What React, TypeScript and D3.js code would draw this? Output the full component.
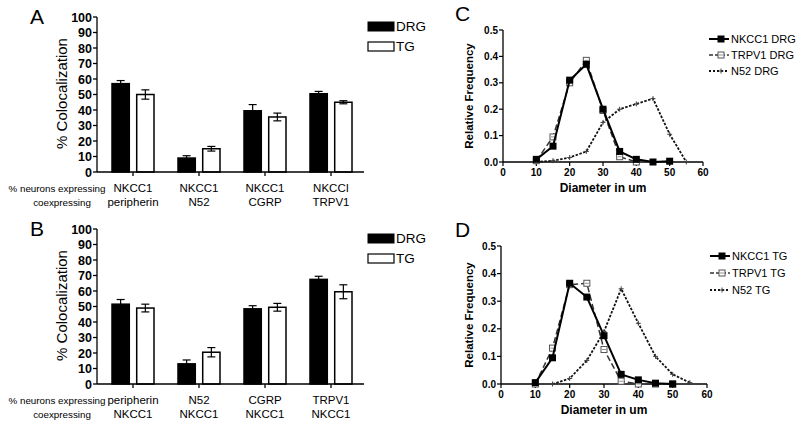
import React from "react";
import * as d3 from "d3";

const groupsA = ["NKCC1\nperipherin", "NKCC1\nN52", "NKCC1\nCGRP", "NKCCI\nTRPV1"];
const groupsB = ["peripherin\nNKCC1", "N52\nNKCC1", "CGRP\nNKCC1", "TRPV1\nNKCC1"];
const seriesNames = ["DRG", "TG"];
const dA_DRG = [57, 9, 39.5, 50.5];
const dA_DRG_err = [2, 1.5, 4, 1.5];
const dA_TG = [50, 15, 35.5, 45];
const dA_TG_err = [3, 1.5, 2.5, 1];
const dB_DRG = [51.5, 13, 48.5, 67.5];
const dB_DRG_err = [3, 2.5, 2, 2];
const dB_TG = [49, 20.5, 49.5, 59.5];
const dB_TG_err = [2.5, 3, 2.5, 4.5];
const barTicks = [0, 10, 20, 30, 40, 50, 60, 70, 80, 90, 100];

const diam = [10, 15, 20, 25, 30, 35, 40, 45, 50, 55];
const cNKCC1 = [0.01, 0.06, 0.31, 0.37, 0.2, 0.04, 0.01, 0.0, 0.003, null];
const cTRPV1 = [0.005, 0.095, 0.3, 0.385, 0.195, 0.02, 0.0, null, null, null];
const cN52 = [0.0, 0.005, 0.017, 0.04, 0.15, 0.2, 0.22, 0.24, 0.105, 0.0];
const dNKCC1 = [0.005, 0.095, 0.365, 0.315, 0.175, 0.035, 0.015, 0.003, 0.0, null];
const dTRPV1 = [0.0, 0.13, 0.36, 0.365, 0.125, 0.01, 0.0, 0.0, 0.0, null];
const dN52 = [null, 0.0, 0.02, 0.085, 0.19, 0.345, 0.22, 0.1, 0.035, 0.005];
const legendC = ["NKCC1 DRG", "TRPV1 DRG", "N52 DRG"];
const legendD = ["NKCC1 TG", "TRPV1 TG", "N52 TG"];
const freqTicks = [0, 0.1, 0.2, 0.3, 0.4, 0.5];
const diamTicks = [0, 10, 20, 30, 40, 50, 60];

const FONT = "Liberation Sans, Arial, sans-serif";

function BarPanel({ label, groups, drg, drgErr, tg, tgErr, top, bottom, labelY }: any) {
  const y = d3.scaleLinear().domain([0, 100]).range([bottom, top]);
  const x0 = d3.scaleBand().domain(groups).range([100, 364]);
  const x1 = d3.scaleBand().domain(seriesNames).range([-21, 21]).paddingInner(0.3);
  const axisX = 97;
  const vals = [drg, tg];
  const errs = [drgErr, tgErr];
  return (
    <g>
      <text x={30} y={top + 7} fontSize={21} fontFamily={FONT}>{label}</text>
      <line x1={axisX} x2={axisX} y1={top} y2={bottom} stroke="#000" strokeWidth={1.3} />
      {barTicks.map((t) => (
        <g key={t}>
          <line x1={axisX - 4} x2={axisX} y1={y(t)} y2={y(t)} stroke="#000" strokeWidth={1.3} />
          <text x={axisX - 5} y={y(t) + 4.5} textAnchor="end" fontSize={12.5} fontWeight="bold" fontFamily={FONT}>{t}</text>
        </g>
      ))}
      <text transform={`translate(67,${(top + bottom) / 2 - 1}) rotate(-90)`} textAnchor="middle" fontSize={15} fontFamily={FONT}>% Colocalization</text>
      {groups.map((g: string, i: number) => (
        <g key={g}>
          {seriesNames.map((s, k) => {
            const bx = x0(g)! + x0.bandwidth() / 2 + x1(s)!;
            const cx = bx + x1.bandwidth() / 2;
            const v = vals[k][i];
            const e = errs[k][i];
            return (
              <g key={s}>
                <rect x={bx} y={y(v)} width={x1.bandwidth()} height={y(0) - y(v)} fill={k === 0 ? "#000" : "#fff"} stroke="#000" strokeWidth={1.5} />
                <line x1={cx} x2={cx} y1={y(v + e)} y2={y(v - e)} stroke="#000" strokeWidth={1.2} />
                <line x1={cx - 4} x2={cx + 4} y1={y(v + e)} y2={y(v + e)} stroke="#000" strokeWidth={1.2} />
                <line x1={cx - 4} x2={cx + 4} y1={y(v - e)} y2={y(v - e)} stroke="#000" strokeWidth={1.2} />
              </g>
            );
          })}
          <line x1={x0(g)! + x0.bandwidth() / 2} x2={x0(g)! + x0.bandwidth() / 2} y1={bottom} y2={bottom + 4} stroke="#000" strokeWidth={1.3} />
          {g.split("\n").map((ln, j) => (
            <text key={j} x={x0(g)! + x0.bandwidth() / 2} y={labelY + j * 14} textAnchor="middle" fontSize={11.5} fontFamily={FONT}>{ln}</text>
          ))}
        </g>
      ))}
      <line x1={axisX} x2={364} y1={bottom} y2={bottom} stroke="#000" strokeWidth={1.3} />
      <text x={57} y={labelY} textAnchor="middle" fontSize={9.8} fontFamily={FONT}>% neurons expressing</text>
      <text x={62} y={labelY + 14} textAnchor="middle" fontSize={9.8} fontFamily={FONT}>coexpressing</text>
      <rect x={368} y={top + 5} width={26} height={9} fill="#000" stroke="#000" strokeWidth={1} />
      <text x={396} y={top + 14} fontSize={13.5} fontFamily={FONT}>DRG</text>
      <rect x={368} y={top + 25} width={26} height={9} fill="#fff" stroke="#000" strokeWidth={1.2} />
      <text x={396} y={top + 34} fontSize={13.5} fontFamily={FONT}>TG</text>
    </g>
  );
}

function Marker({ kind, x, y }: any) {
  if (kind === 0) return <rect x={x - 3.5} y={y - 3.5} width={7} height={7} fill="#000" />;
  if (kind === 1)
    return (
      <g>
        <rect x={x - 3} y={y - 3} width={6} height={6} fill="#fff" stroke="#555" strokeWidth={1} />
        <line x1={x - 2} x2={x + 2} y1={y} y2={y} stroke="#777" strokeWidth={0.8} />
      </g>
    );
  return (
    <g stroke="#444" strokeWidth={1}>
      <line x1={x - 2.5} x2={x + 2.5} y1={y} y2={y} />
      <line x1={x} x2={x} y1={y - 2.5} y2={y + 2.5} />
    </g>
  );
}

const lineStyles = [
  { stroke: "#000", width: 2, dash: "none" },
  { stroke: "#333", width: 1.5, dash: "6,3" },
  { stroke: "#111", width: 1.8, dash: "2.5,1.5" },
];

function LinePanel({ label, series, legend, x0, x1, top, bottom, legendY, legendX }: any) {
  const x = d3.scaleLinear().domain([0, 60]).range([x0, x1]);
  const y = d3.scaleLinear().domain([0, 0.5]).range([bottom, top]);
  const line = d3
    .line<any>()
    .defined((d) => d[1] !== null)
    .x((d) => x(d[0]))
    .y((d) => y(d[1]));
  const order = [2, 1, 0];
  return (
    <g>
      <text x={455} y={top - 9} fontSize={21} fontFamily={FONT}>{label}</text>
      <line x1={x0} x2={x0} y1={top} y2={bottom} stroke="#000" strokeWidth={1.3} />
      <line x1={x0} x2={x1} y1={bottom} y2={bottom} stroke="#000" strokeWidth={1.3} />
      {freqTicks.map((t) => (
        <g key={t}>
          <line x1={x0 - 4} x2={x0} y1={y(t)} y2={y(t)} stroke="#000" strokeWidth={1.2} />
          <text x={x0 - 5} y={y(t) + 3.5} textAnchor="end" fontSize={10} fontWeight="bold" fontFamily={FONT}>{t.toFixed(1)}</text>
        </g>
      ))}
      {diamTicks.map((t) => (
        <g key={t}>
          <line x1={x(t)} x2={x(t)} y1={bottom} y2={bottom + 4} stroke="#000" strokeWidth={1.2} />
          <text x={x(t)} y={bottom + 14} textAnchor="middle" fontSize={10} fontWeight="bold" fontFamily={FONT}>{t}</text>
        </g>
      ))}
      <text x={(x0 + x1) / 2} y={bottom + 30} textAnchor="middle" fontSize={12} fontWeight="bold" fontFamily={FONT}>Diameter in um</text>
      <text transform={`translate(473,${(top + bottom) / 2}) rotate(-90)`} textAnchor="middle" fontSize={11.5} fontWeight="bold" fontFamily={FONT}>Relative Frequency</text>
      {order.map((k) => {
        const pts = diam.map((d, i) => [d, series[k][i]]);
        const st = lineStyles[k];
        return (
          <g key={k}>
            <path d={line(pts)!} fill="none" stroke={st.stroke} strokeWidth={st.width} strokeDasharray={st.dash} />
            {pts.filter((p) => p[1] !== null).map((p, i) => (
              <Marker key={i} kind={k} x={x(p[0] as number)} y={y(p[1] as number)} />
            ))}
          </g>
        );
      })}
      {legend.map((name: string, k: number) => {
        const ly = legendY[k];
        const st = lineStyles[k];
        return (
          <g key={name}>
            <line x1={legendX} x2={legendX + 20} y1={ly} y2={ly} stroke={st.stroke} strokeWidth={st.width} strokeDasharray={st.dash === "none" ? "none" : k === 1 ? "4,2" : "2,2"} />
            <Marker kind={k} x={legendX + 12} y={ly} />
            <text x={legendX + 22} y={ly + 4} fontSize={11} fontFamily={FONT}>{name}</text>
          </g>
        );
      })}
    </g>
  );
}

export default function App() {
  return (
    <svg width={800} height={424} style={{ position: "absolute", left: 0, top: 0, background: "#fff" }}>
      <rect width={800} height={424} fill="#fff" />
      <BarPanel label="A" groups={groupsA} drg={dA_DRG} drgErr={dA_DRG_err} tg={dA_TG} tgErr={dA_TG_err} top={17} bottom={172} labelY={192} />
      <BarPanel label="B" groups={groupsB} drg={dB_DRG} drgErr={dB_DRG_err} tg={dB_TG} tgErr={dB_TG_err} top={229} bottom={384} labelY={404} />
      <LinePanel label="C" series={[cNKCC1, cTRPV1, cN52]} legend={legendC} x0={503} x1={703} top={30} bottom={162} legendY={[39, 55, 71]} legendX={709} />
      <LinePanel label="D" series={[dNKCC1, dTRPV1, dN52]} legend={legendD} x0={501} x1={707} top={246} bottom={384} legendY={[256, 273, 290]} legendX={710} />
    </svg>
  );
}
